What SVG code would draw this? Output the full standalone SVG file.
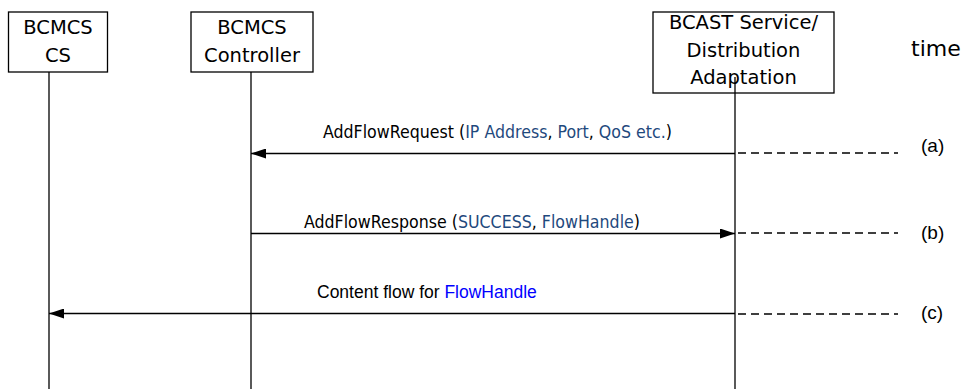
<svg xmlns="http://www.w3.org/2000/svg" width="966" height="389" viewBox="0 0 966 389">
<style>
.box{fill:#fff;stroke:#000;stroke-width:1.3}
.life{stroke:#000;stroke-width:1.3;fill:none}
.msg{stroke:#000;stroke-width:1.3;fill:none}
.dash{stroke:#000;stroke-width:1.3;stroke-dasharray:8 5;fill:none}
.nt{font-family:"DejaVu Sans",Verdana,sans-serif;font-size:19.5px;fill:#000;text-anchor:middle}
.ml{font-family:"DejaVu Sans Condensed","DejaVu Sans",sans-serif;font-stretch:condensed;font-size:17.6px;fill:#000}
.p{fill:#1F497D}
.cl{font-family:"Liberation Sans",Arial,sans-serif;font-size:17.5px;fill:#000}
.lab{font-family:"Liberation Sans",Arial,sans-serif;font-size:19px;fill:#000}
.tm{font-family:"DejaVu Sans",Verdana,sans-serif;font-size:22px;fill:#000}
</style>
<defs>
<marker id="ah" markerWidth="15" markerHeight="10" refX="15" refY="5" orient="auto" markerUnits="userSpaceOnUse">
<path d="M0,0 L15,5 L0,10 Z" fill="#000"/>
</marker>
</defs>
<rect width="966" height="389" fill="#fff"/>
<g id="node-cs">
<rect class="box" x="8.5" y="12" width="99" height="60"/>
<text class="nt" x="58" y="34">BCMCS</text>
<text class="nt" x="58" y="62">CS</text>
</g>
<g id="node-controller">
<rect class="box" x="191" y="12" width="122" height="60"/>
<text class="nt" x="252" y="34">BCMCS</text>
<text class="nt" x="252" y="62">Controller</text>
</g>
<g id="node-bcast">
<rect class="box" x="653" y="12" width="181" height="81"/>
<text class="nt" x="743.5" y="29">BCAST Service/</text>
<text class="nt" x="743.5" y="57">Distribution</text>
<text class="nt" x="743.5" y="84">Adaptation</text>
</g>
<text class="tm" x="911" y="56">time</text>
<g id="connectors">
<line class="life" x1="49" y1="72" x2="49" y2="389"/>
<line class="life" x1="251" y1="72" x2="251" y2="389"/>
<line class="life" x1="735" y1="77" x2="735" y2="389"/>
<line class="msg" x1="735" y1="153.5" x2="251" y2="153.5" marker-end="url(#ah)"/>
<line class="msg" x1="251" y1="233.5" x2="735" y2="233.5" marker-end="url(#ah)"/>
<line class="msg" x1="735" y1="313.5" x2="49" y2="313.5" marker-end="url(#ah)"/>
<line class="dash" x1="738" y1="153" x2="898" y2="153"/>
<line class="dash" x1="738" y1="233" x2="898" y2="233"/>
<line class="dash" x1="738" y1="314" x2="898" y2="314"/>
</g>
<text class="ml" x="323" y="138">AddFlowRequest (<tspan class="p">IP Address</tspan>, <tspan class="p">Port</tspan>, <tspan class="p">QoS etc.</tspan>)</text>
<text class="ml" x="304" y="228">AddFlowResponse (<tspan class="p">SUCCESS</tspan>, <tspan class="p">FlowHandle</tspan>)</text>
<text class="cl" x="317" y="298">Content flow for <tspan fill="#0000FF">FlowHandle</tspan></text>
<text class="lab" x="921" y="152">(a)</text>
<text class="lab" x="921" y="239">(b)</text>
<text class="lab" x="921" y="319">(c)</text>
</svg>
